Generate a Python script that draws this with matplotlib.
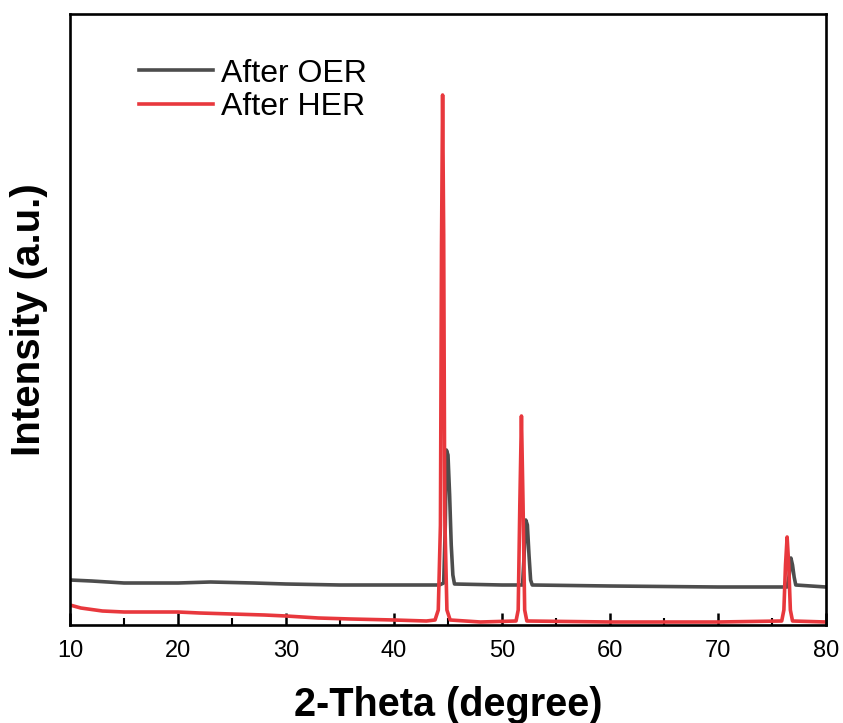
import matplotlib
matplotlib.use("Agg")
import matplotlib.pyplot as plt
from matplotlib.ticker import MultipleLocator

plt.rcParams["font.family"] = ["Liberation Sans", "DejaVu Sans"]

# ── Data (intensity in arbitrary units) ──────────────────────────────────────
oer_theta = [10, 12, 15, 20, 23, 27, 30, 35, 40, 44.2, 44.6, 44.75, 44.85,
             45.0, 45.15, 45.3, 45.45, 45.6, 50, 51.9, 52.05, 52.2, 52.35,
             52.5, 52.65, 52.8, 60, 70, 76.4, 76.6, 76.75, 76.9, 77.05,
             77.2, 80]
oer_int = [45, 44, 42, 42, 43, 42, 41, 40, 40, 40, 42, 100, 175,
           170, 130, 80, 50, 41, 40, 40, 70, 105, 100,
           70, 45, 40, 39, 38, 38, 50, 67, 60, 48,
           40, 38]

her_theta = [10, 11, 13, 15, 18, 20, 22, 25, 28, 30, 33, 36, 40, 43, 43.8,
             44.1, 44.3, 44.4, 44.5, 44.6, 44.7, 44.9, 45.2, 48, 51.3,
             51.5, 51.65, 51.8, 51.95, 52.1, 52.3, 60, 70, 75.9, 76.1,
             76.25, 76.4, 76.55, 76.7, 76.9, 80]
her_int = [20, 17, 14, 13, 13, 13, 12, 11, 10, 9, 7, 6, 5, 4, 5,
           15, 100, 380, 530, 390, 110, 15, 5, 3, 4,
           15, 120, 209, 120, 15, 4, 3, 3, 4, 15,
           60, 88, 60, 15, 4, 3]

fig = plt.figure(figsize=(8.43, 7.23), dpi=100)
ax = fig.add_axes([70 / 843, 1 - 625 / 723, 756 / 843, 611 / 723])

ax.plot(oer_theta, oer_int, color="#4D4D4D", lw=2.6, label="After OER")
ax.plot(her_theta, her_int, color="#E8383D", lw=2.6, label="After HER")

ax.set_xlim(10, 80)
ax.set_ylim(0, 611)
ax.xaxis.set_major_locator(MultipleLocator(10))
ax.xaxis.set_minor_locator(MultipleLocator(5))
ax.set_yticks([])
ax.tick_params(axis="x", which="major", direction="in", length=9, width=1.8,
               labelsize=17, pad=11)
ax.tick_params(axis="x", which="minor", direction="in", length=5, width=1.5)
for s in ax.spines.values():
    s.set_linewidth(1.9)

ax.set_xlabel("2-Theta (degree)", fontsize=28.5, fontweight="bold", labelpad=17)
ax.set_ylabel("Intensity (a.u.)", fontsize=29, fontweight="bold", labelpad=16)

ax.legend(loc="upper left", bbox_to_anchor=(0.075, 0.948), frameon=False,
          fontsize=23, handlelength=2.3, handletextpad=0.25, labelspacing=0.1,
          borderaxespad=0)

fig.savefig("out.png", dpi=100)
